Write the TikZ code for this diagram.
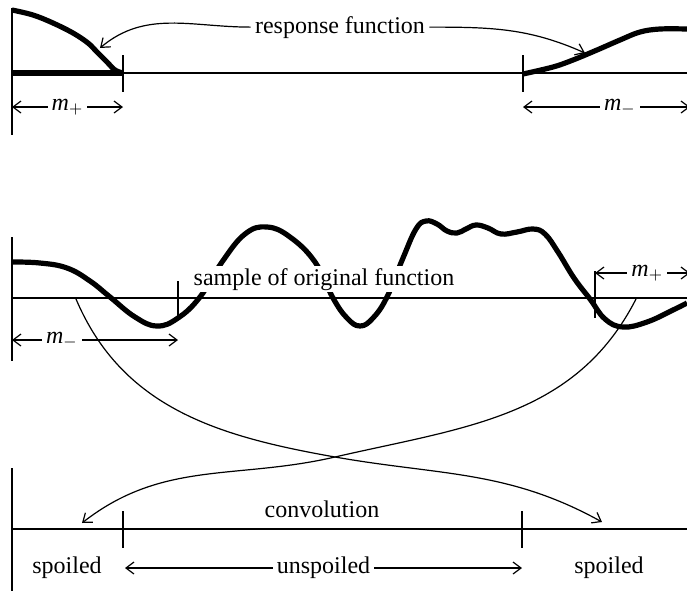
\documentclass[tikz,border=0pt]{standalone}
\usepackage{fontspec}
\setmainfont{Liberation Serif}
\usetikzlibrary{arrows.meta}
\tikzset{
  ax/.style={line width=0.6pt},
  wave/.style={line width=2.6pt,line join=round},
  barb/.tip={Straight Barb[length=4pt,width=6pt]},
  dim/.style={ax,barb-barb},
  link/.style={ax,-barb},
  lab/.style={fill=white,inner sep=2pt},
}
\begin{document}
\begin{tikzpicture}[x=0.5pt,y=-0.5pt,font=\fontsize{12}{14}\selectfont]
\useasboundingbox (0,0) rectangle (687,591);
% response function
\draw[ax] (12,8) -- (12,135);
\draw[ax] (12,73) -- (687,73);
\draw[ax] (123,55) -- (123,92);
\draw[ax] (523,55) -- (523,92);
\draw[wave] (12,73) -- (123,73);
\draw[wave] plot[smooth,tension=0.6] coordinates {(12,10) (33,15) (53,23) (73,33) (88,43) (97,52) (107,62) (115,70) (123,73)};
\draw[wave] plot[smooth,tension=0.6] coordinates {(523,74) (553,67) (573,60) (597,50) (620,40) (640,32) (660,29) (687,29)};
\node[lab,anchor=base] (resp) at (340,33) {response function};
\coordinate (respL) at (100,48);
\coordinate (respR) at (585,53);
\draw[link] (resp.west) to[out=180,in=40] (respL);
\draw[link] (resp.east) to[out=0,in=156] (respR);
\coordinate (mpA) at (12,107);
\coordinate (mpB) at (123,107);
\draw[dim] (mpA) -- node[lab] {$\mathit{m}_+$} (mpB);
\coordinate (mmA) at (523,107);
\coordinate (mmB) at (690,107);
\draw[dim] (mmA) -- node[lab,pos=0.58] {$\mathit{m}_-$} (mmB);
% original function
\draw[ax] (12,237) -- (12,361);
\draw[ax] (12,298) -- (687,298);
\draw[ax] (178,281) -- (178,318);
\draw[ax] (595,271) -- (595,318);
\draw[wave] plot[smooth,tension=0.7] coordinates {(12,262) (40,263) (67,268) (90,281) (110,297) (135,317) (157,326) (178,318) (200,297) (222,262) (245,234) (267,227) (290,237) (315,262) (333,298) (347,318) (360,326) (373,318) (387,297) (403,258) (416,229) (426,221) (437,224) (447,231) (457,233) (466,229) (476,225) (488,228) (501,234) (517,232) (533,229) (545,234) (558,252) (574,278) (590,299) (605,319) (623,327) (647,322) (673,310) (687,303)};
\node[lab,anchor=base,inner sep=1pt] (samp) at (324,285) {sample of original function};
\coordinate (smA) at (12,340);
\coordinate (smB) at (178,340);
\draw[dim] (smA) -- node[lab,pos=0.3] {$\mathit{m}_-$} (smB);
\coordinate (spA) at (595,273);
\coordinate (spB) at (690,273);
\draw[dim] (spA) -- node[lab,pos=0.55] {$\mathit{m}_+$} (spB);
% convolution
\draw[ax] (12,468) -- (12,591);
\draw[ax] (12,529) -- (687,529);
\draw[ax] (123,511) -- (123,548);
\draw[ax] (522,511) -- (522,548);
\node[anchor=base] (conv) at (322,517) {convolution};
\node[anchor=base] (spL) at (67,573) {spoiled};
\node[anchor=base] (spR) at (609,573) {spoiled};
\coordinate (unA) at (125,568);
\coordinate (unB) at (522,568);
\draw[dim] (unA) -- node[lab] {unspoiled} (unB);
% crossing curves
\coordinate (cA) at (76,299);
\coordinate (cB) at (636,299);
\coordinate (cross) at (335,457);
\coordinate (endL) at (82,523);
\coordinate (endR) at (602,522);
\draw[link] (cA) to[out=-67,in=170] (cross) to[out=-10,in=151] (endR);
\draw[link] (cB) to[out=-117,in=13] (cross) to[out=193,in=38] (endL);
\end{tikzpicture}
\end{document}
